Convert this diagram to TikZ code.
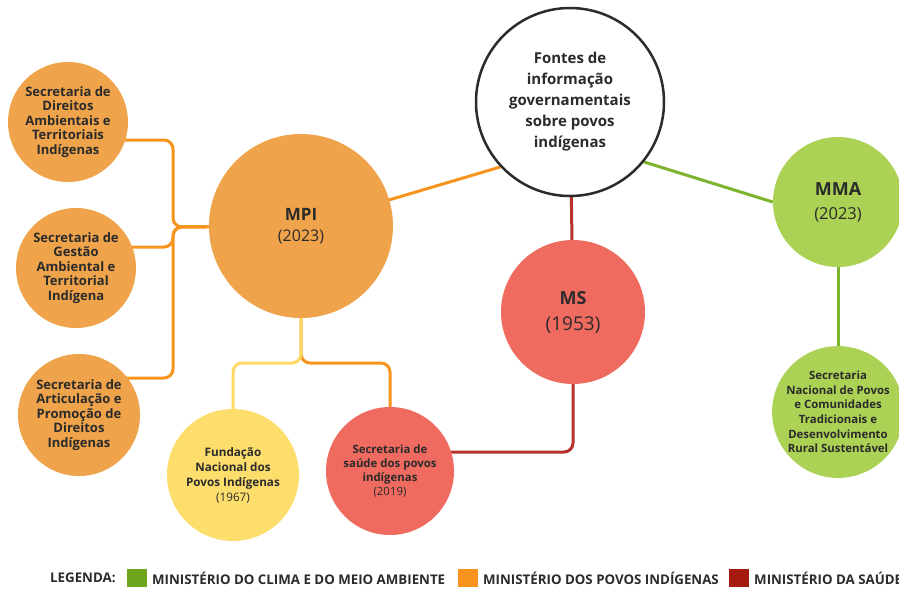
\documentclass[tikz,border=0pt]{standalone}
\usepackage{fontspec}
\setmainfont{Open Sans}
\usetikzlibrary{backgrounds,calc}
\definecolor{orfill}{HTML}{EFA34A}
\definecolor{orline}{HTML}{F7941D}
\definecolor{yefill}{HTML}{FDDE6C}
\definecolor{yeline}{HTML}{FFD966}
\definecolor{refill}{HTML}{F06B5F}
\definecolor{reline}{HTML}{B5332A}
\definecolor{grfill}{HTML}{ABD155}
\definecolor{grline}{HTML}{7DB32E}
\definecolor{txt}{HTML}{2B2B2B}
\definecolor{legG}{HTML}{6FA51C}
\definecolor{legO}{HTML}{F7931E}
\definecolor{legR}{HTML}{A61B0F}
\begin{document}
\begin{tikzpicture}[x=1pt,y=-1pt,
  circ/.style={circle, inner sep=0pt, align=center, text=txt},
  small/.style={font=\bfseries\fontsize{13}{14.5}\selectfont},
  conn/.style={line width=3pt, rounded corners=9pt},
  legsq/.style={minimum width=20pt, minimum height=18pt, inner sep=0pt},
  legtxt/.style={anchor=west, inner sep=0pt, text=txt, font=\bfseries\fontsize{13.3}{16}\selectfont}]
\useasboundingbox (0,0) rectangle (899,590);

% nodes
\node[circ, small, fill=orfill, minimum size=120pt] (s1) at (68,122) {Secretaria de\\Direitos\\Ambientais e\\Territoriais\\Indígenas};
\node[circ, small, fill=orfill, minimum size=120pt] (s2) at (76,268) {Secretaria de\\Gestão\\Ambiental e\\Territorial\\Indígena};
\node[circ, small, fill=orfill, minimum size=122pt] (s3) at (79,415) {Secretaria de\\Articulação e\\Promoção de\\Direitos\\Indígenas};
\node[circ, fill=orfill, minimum size=184pt, font=\fontsize{16}{21}\selectfont] (mpi) at (301,226) {{\bfseries\fontsize{17}{21}\selectfont MPI}\\(2023)};
\node[circ, fill=white, draw=txt, line width=2.5pt, minimum size=188pt, font=\bfseries\fontsize{15}{21}\selectfont] (fontes) at (570,102) {Fontes de\\informação\\governamentais\\sobre povos\\indígenas};
\node[circ, fill=grfill, minimum size=130pt, font=\fontsize{16.5}{24}\selectfont] (mma) at (838,202) {{\bfseries\fontsize{18}{24}\selectfont MMA}\\(2023)};
\node[circ, fill=refill, minimum size=144pt, font=\fontsize{19}{26}\selectfont] (ms) at (573,312) {{\bfseries\fontsize{18}{26}\selectfont MS}\\(1953)};
\node[circ, fill=grfill, minimum size=124pt, font=\bfseries\fontsize{11.4}{14.6}\selectfont] (snp) at (838,412) {Secretaria\\Nacional de Povos\\e Comunidades\\Tradicionais e\\Desenvolvimento\\Rural Sustentável};
\node[circ, fill=yefill, minimum size=132pt, font=\bfseries\fontsize{11.7}{15}\selectfont] (fund) at (233,475) {Fundação\\Nacional dos\\Povos Indígenas\\\mdseries (1967)};
\node[circ, fill=refill, minimum size=128pt, font=\bfseries\fontsize{11.4}{14}\selectfont] (sesai) at (390,471) {Secretaria de\\saúde dos povos\\indígenas\\\mdseries (2019)};

\coordinate (tk) at (173,227);
\coordinate (split) at (301,363);

% legend
\node[legtxt] (leg) at (50,578) {LEGENDA:};
\node[legsq, fill=legG] (sqg) at (137,578) {};
\node[legtxt] (lg) at (152,578) {MINISTÉRIO DO CLIMA E DO MEIO AMBIENTE};
\node[legsq, fill=legO] (sqo) at (468,578) {};
\node[legtxt] (lo) at (483,578) {MINISTÉRIO DOS POVOS INDÍGENAS};
\node[legsq, fill=legR] (sqr) at (739,578) {};
\node[legtxt] (lr) at (754,578) {MINISTÉRIO DA SAÚDE};

\begin{scope}[on background layer]
\fill[white] (0,0) rectangle (899,590);
\draw[conn, orline] ([yshift=-18pt]s1.center) -| (tk) -- (mpi.center);
\draw[conn, orline] ([yshift=21pt]s2.center) -| (tk) -- (mpi.center);
\draw[conn, orline] ([yshift=37pt]s3.center) -| (tk) -- (mpi.center);
\draw[conn, orline, rounded corners=0pt] (mpi.center) -- (fontes.223);
\draw[conn, reline] (fontes.center) -- (ms.center);
\draw[conn, grline] (fontes.-39) -- (mma.west);
\draw[conn, grline] (mma.center) -- (snp.center);
\draw[conn, reline] (ms.center) |- ([yshift=19pt]sesai.center);
\draw[conn, orline] (mpi.center) -- (split) -| (sesai.center);
\draw[conn, yeline] (mpi.center) -- (split) -| (fund.center);
\end{scope}
\end{tikzpicture}
\end{document}
